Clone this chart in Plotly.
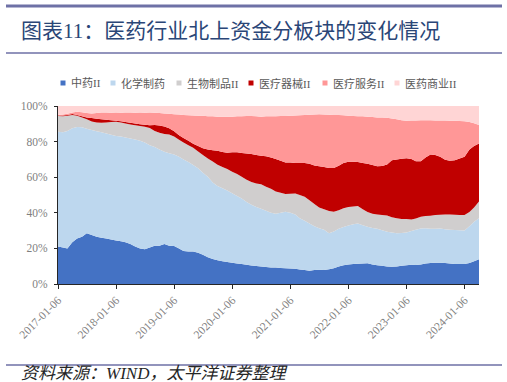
import plotly.graph_objects as go

# ---------------- data (monthly, share of northbound holdings, %) ----------------
dates = [f"{y}-{m:02d}-06" for y in range(2017, 2025) for m in range(1, 13)][:88]

tcm = [21, 20.5, 20, 23.5, 25.5, 26.5, 28.5, 27.5, 26.5, 26, 25.5, 25, 24.5, 24, 23.5, 22.5,
       21, 20, 19.5, 20.5, 21.5, 21.5, 22.5, 21.5, 21.3, 20, 18.5, 18.3, 18.2, 17.5, 16.5, 15,
       14, 13.3, 12.8, 12.4, 11.9, 11.5, 11.2, 10.8, 10.4, 10.1, 9.9, 9.5, 9.3, 9.2, 9, 8.8,
       8.7, 8.5, 8.2, 7.8, 7.5, 7.8, 8, 7.9, 8.3, 8.8, 9.8, 10.5, 11, 11.2, 11.4, 11.5, 11.6, 11,
       10.5, 10.2, 9.8, 9.7, 9.8, 10.2, 10.5, 10.8, 10.7, 11, 11.5, 11.8, 12, 12, 11.8, 11.5,
       11.3, 11.2, 11.2, 11.8, 12.8, 13.9]

chem = [64.6, 64.7, 66, 64, 62.7, 61.5, 58.7, 59, 59.3, 59.2, 59, 58.8, 58.7, 58.8, 58.8, 59.3,
        60.2, 60.5, 60, 57.5, 55.5, 54, 51.8, 51.9, 51.5, 51.5, 51.5, 50.2, 48.6, 47.5, 46, 45.2,
        43, 41.7, 41, 40.1, 39.1, 38, 36.8, 35.2, 34.1, 33.1, 32.4, 31.7, 30.7, 30.3, 31, 31.8,
        31.3, 30.5, 28.8, 27.7, 26.5, 24.7, 23.3, 22.6, 20.2, 20.7, 21.2, 21.5, 21.8, 22.3, 22.6,
        21.5, 20.6, 20.5, 20.5, 20, 19.6, 19.3, 18.7, 18.5, 18.5, 19, 19.8, 20.2, 19.8, 19.2, 19,
        19.2, 19, 19, 19, 19, 18.8, 20.7, 22.2, 23]

bio = [8.8, 9, 8.5, 7.5, 6.3, 5.5, 5.3, 4.8, 5, 5.4, 6.3, 7.2, 8, 8, 7.9, 7.8, 8, 8.3, 8.8, 9.6,
       9, 9.5, 10, 10.6, 10, 9.5, 9.5, 9.5, 9.7, 9.5, 10, 10.3, 11.8, 12, 12, 12.1, 12, 12.3,
       12.3, 12.5, 12.8, 13.3, 13.7, 13.4, 13.5, 12.5, 11.3, 10, 10.7, 11.9, 13, 13.5, 13, 12.5,
       11.7, 11.5, 12.5, 11.1, 10.5, 10.6, 10.5, 10.1, 9.8, 9, 8.3, 8, 8, 8.6, 9.1, 8.5, 8.5,
       7.8, 7.5, 6.4, 6.3, 6.6, 6.9, 7.4, 7.8, 7.7, 8.2, 8.5, 8.6, 8.6, 8.8, 8, 8, 9.4]

device = [0.2, 0.5, 0.5, 0.5, 0.5, 0.8, 1, 1.9, 2, 1.9, 1.5, 1, 0.5, 0.7, 0.8, 1, 1, 1, 1.2, 1.6,
          3.3, 4, 4.2, 3.5, 3, 2.5, 2.5, 2.5, 2.3, 3, 3.7, 5, 6.4, 7.8, 8.4, 9.2, 11, 12.2, 13.3,
          14.8, 15.7, 16, 16, 17.2, 17.5, 18.2, 17.9, 17.7, 17.5, 17.1, 18, 19, 20.5, 21.6, 23.2,
          23.8, 24.2, 24.6, 25, 25.4, 25.4, 25.1, 24.7, 26, 27.1, 27.3, 27.2, 27.5, 28.7, 32, 33,
          33.9, 34.1, 34, 32.2, 31.2, 32.8, 34.4, 33.7, 32.6, 30.8, 30.2, 30.6, 31.7, 32.7, 35,
          34.5, 32.7]

service = [0.4, 0.5, 0.6, 0.8, 1.8, 2.2, 2.5, 2.6, 3.2, 3.8, 4, 4.2, 4.6, 4.7, 5.3, 5.7, 6, 6.5,
           6.7, 7.1, 6.9, 7, 7.3, 8.1, 9.6, 11.7, 13, 14.3, 15.9, 17, 18.3, 18.8, 19, 19.2, 19.8,
           20.2, 20, 20.2, 20.7, 21.1, 21.4, 21.7, 22, 22.4, 23.3, 24.1, 25.2, 26.1, 26.3, 26.6,
           26.8, 27, 27.6, 28.6, 29.1, 29.4, 29.9, 29.8, 28.5, 26.8, 25.8, 25.7, 25.8, 26.2, 26.4,
           27, 27.4, 27.2, 26.2, 23.5, 22.5, 21.6, 21.1, 21.6, 22.9, 23, 21, 19.2, 19.4, 20.3, 22,
           22.5, 22.2, 21.1, 20, 15.5, 12.8, 10.3]

commerce = [5, 4.8, 4.4, 3.7, 3.2, 3.5, 4, 4.2, 4, 3.7, 3.7, 3.8, 3.7, 3.8, 3.7, 3.7, 3.8, 3.7,
            3.8, 3.7, 3.8, 4, 4.2, 4.4, 4.6, 4.8, 5, 5.2, 5.3, 5.5, 5.5, 5.7, 5.8, 6, 6, 6, 6, 5.8,
            5.7, 5.6, 5.6, 5.8, 6, 5.8, 5.7, 5.7, 5.6, 5.6, 5.5, 5.4, 5.2, 5, 4.9, 4.8, 4.7, 4.8,
            4.9, 5, 5, 5.2, 5.5, 5.6, 5.7, 5.8, 6, 6.2, 6.4, 6.5, 6.6, 7, 7.5, 8, 8.3, 8.2, 8.1, 8,
            8, 8, 8.1, 8.2, 8.2, 8.3, 8.3, 8.4, 8.5, 9, 9.7, 10.7]

series_names = ["中药II", "化学制药", "生物制品II", "医疗器械II", "医疗服务II", "医药商业II"]
series_values = [tcm, chem, bio, device, service, commerce]
series_colors = ["#4472C4", "#BDD7EE", "#D0CECE", "#C00000", "#FF9797", "#FFD5D5"]

tick_dates = [f"{y}-01-06" for y in range(2017, 2025)]
y_ticks = [0, 20, 40, 60, 80, 100]

title_text = "图表11：医药行业北上资金分板块的变化情况"
source_text = "资料来源：WIND，太平洋证券整理"

# ---------------- layout geometry ----------------
W, H = 507, 382
PL, PR, PT, PB = 58, 479, 106, 284
SERIF = "Liberation Serif, 'Times New Roman', 'Noto Sans CJK SC', serif"


def px(xp):
    return (xp - PL) / (PR - PL)


def py(yp):
    return (PB - yp) / (PB - PT)


fig = go.Figure()
for name, vals, col in zip(series_names, series_values, series_colors):
    fig.add_trace(go.Scatter(
        x=dates, y=vals, name=name, mode="none", stackgroup="one", groupnorm="percent",
        fillcolor=col, hoverinfo="x+y+name"))

shapes = []
annotations = []
line_col = "#6E71A6"
# decorative rules
shapes.append(dict(type="line", xref="paper", yref="paper", x0=px(6), x1=px(502),
                   y0=py(6), y1=py(6), line=dict(color=line_col, width=3)))
shapes.append(dict(type="line", xref="paper", yref="paper", x0=px(6), x1=px(502),
                   y0=py(53), y1=py(53), line=dict(color=line_col, width=1.5)))
shapes.append(dict(type="line", xref="paper", yref="paper", x0=px(6), x1=px(502),
                   y0=py(365), y1=py(365), line=dict(color=line_col, width=1.5)))

annotations.append(dict(text=title_text, xref="paper", yref="paper", x=px(19), y=py(31),
                        xanchor="left", yanchor="middle", showarrow=False,
                        font=dict(family=SERIF, size=21, color="#2A4677")))
annotations.append(dict(text=f"<i>{source_text}</i>", xref="paper", yref="paper", x=px(19),
                        y=py(373), xanchor="left", yanchor="middle", showarrow=False,
                        font=dict(family=SERIF, size=17, color="#262626")))

# custom legend
legend_x = [63, 113, 179, 251, 325, 397]
for name, col, lx in zip(series_names, series_colors, legend_x):
    shapes.append(dict(type="rect", xref="paper", yref="paper",
                       x0=px(lx - 2.5), x1=px(lx + 2.5), y0=py(85.5), y1=py(80.5),
                       fillcolor=col, line=dict(width=0)))
    annotations.append(dict(text=name, xref="paper", yref="paper", x=px(lx + 6), y=py(83),
                            xanchor="left", yanchor="middle", showarrow=False,
                            font=dict(family=SERIF, size=11, color="#595959")))

fig.update_layout(
    width=W, height=H,
    margin=dict(l=PL, r=W - PR, t=PT, b=H - PB, pad=0),
    paper_bgcolor="white", plot_bgcolor="white",
    showlegend=False,
    shapes=shapes, annotations=annotations,
    font=dict(family=SERIF, color="#7F7F7F"),
    xaxis=dict(type="date", range=[dates[0], dates[-1]], tickvals=tick_dates,
               ticktext=tick_dates, tickangle=-45, showgrid=False, zeroline=False,
               showline=True, linecolor="#262626", linewidth=1.2,
               ticks="outside", ticklen=4, tickcolor="#262626", automargin=False,
               tickfont=dict(family=SERIF, size=11.5, color="#7F7F7F")),
    yaxis=dict(range=[0, 100], tickvals=y_ticks, ticktext=[f"{v}%" for v in y_ticks],
               showgrid=False, zeroline=False, showline=True, linecolor="#262626",
               linewidth=1.2, ticks="outside", ticklen=3, tickcolor="#262626", automargin=False,
               ticklabelstandoff=4,
               tickfont=dict(family=SERIF, size=11.5, color="#7F7F7F")),
)

fig.write_html("out.html", config={"displayModeBar": False},
               post_script="document.body.style.margin='0';document.body.style.padding='0';"
                           "document.body.style.overflow='hidden';")
